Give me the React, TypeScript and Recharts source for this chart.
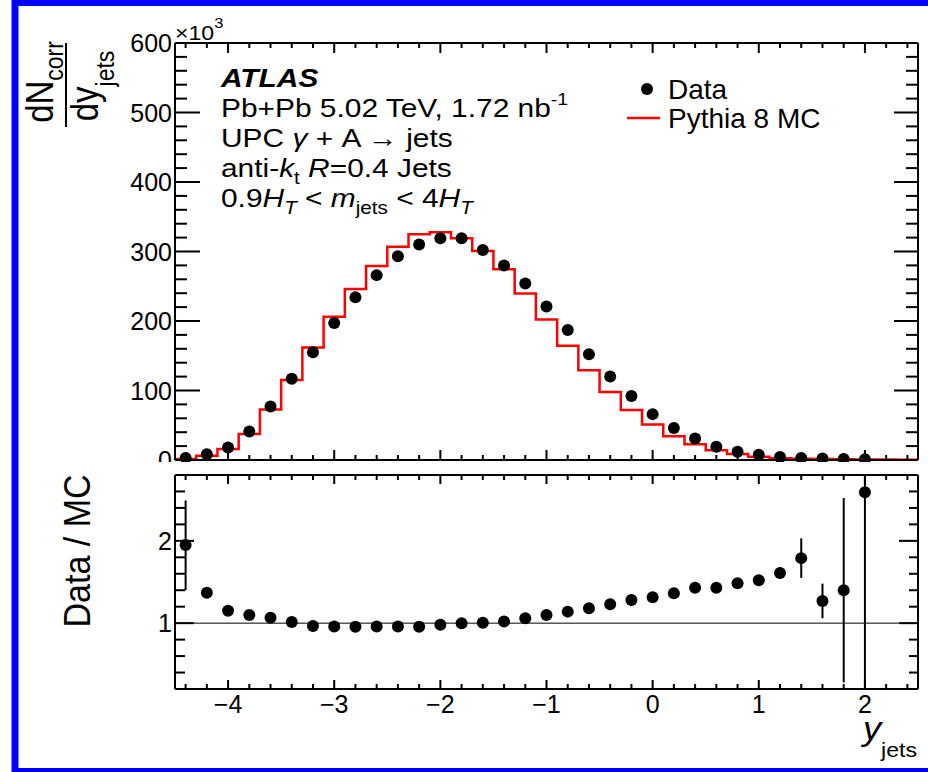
import { ComposedChart, ErrorBar, Line, ReferenceLine, Scatter, XAxis, YAxis } from "recharts";

const FONT = "'Liberation Sans', Arial, Helvetica, sans-serif";

// bin centres of the measured points (bin width 0.2)
const yCenters = [-4.4, -4.2, -4, -3.8, -3.6, -3.4, -3.2, -3, -2.8, -2.6, -2.4, -2.2, -2, -1.8, -1.6, -1.4, -1.2, -1, -0.8, -0.6, -0.4, -0.2, 0, 0.2, 0.4, 0.6, 0.8, 1, 1.2, 1.4, 1.6, 1.8, 2];

// dN/dy (x10^3)
const dataYield = [2.9, 8.2, 18, 41, 77, 117, 155, 197, 234, 266, 293, 310, 319, 319, 302, 280, 254, 221, 187, 152, 120, 92, 66, 46, 31, 19, 12, 7.6, 4.3, 2.9, 2.0, 1.5, 1.0];

// Pythia histogram: lower bin edges + last upper edge, one value per bin
const mcEdges = [-4.5, -4.3, -4.1, -3.9, -3.7, -3.5, -3.3, -3.1, -2.9, -2.7, -2.5, -2.3, -2.1, -1.9, -1.7, -1.5, -1.3, -1.1, -0.9, -0.7, -0.5, -0.3, -0.1, 0.1, 0.3, 0.5, 0.7, 0.9, 1.1, 1.3, 1.5, 1.7, 1.9, 2.1, 2.3, 2.5];
const mcValues = [1.5, 6, 16, 37.5, 72.6, 115, 162, 206, 246, 279, 307, 325, 327.6, 319, 300.6, 274.6, 239.5, 202, 164.5, 129, 98, 72, 51, 34, 22.5, 14, 8.6, 4.8, 2.4, 1.9, 1.3, 1.0, 0.8, 0.6, 0.5];

// Data / MC
const ratioValues = [1.95, 1.37, 1.15, 1.1, 1.065, 1.015, 0.965, 0.96, 0.955, 0.958, 0.958, 0.955, 0.98, 1.0, 1.004, 1.02, 1.06, 1.1, 1.14, 1.18, 1.23, 1.28, 1.316, 1.364, 1.43, 1.43, 1.486, 1.52, 1.61, 1.79, 1.27, 1.4, 2.59];
const ratioErrLo = [0.55, 0.04, 0.02, 0.02, 0.01, 0.01, 0.01, 0.01, 0.01, 0.01, 0.01, 0.01, 0.01, 0.01, 0.01, 0.01, 0.01, 0.01, 0.01, 0.01, 0.01, 0.01, 0.01, 0.02, 0.02, 0.02, 0.03, 0.04, 0.07, 0.24, 0.21, 1.12, 2.39];
const ratioErrHi = [0.54, 0.04, 0.02, 0.02, 0.01, 0.01, 0.01, 0.01, 0.01, 0.01, 0.01, 0.01, 0.01, 0.01, 0.01, 0.01, 0.01, 0.01, 0.01, 0.01, 0.01, 0.01, 0.01, 0.02, 0.02, 0.02, 0.03, 0.04, 0.07, 0.24, 0.21, 1.12, 0.2];

// axes
const xTicks = [...yCenters, 2.2, 2.4];
const xLabels = [-4, -3, -2, -1, 0, 1, 2];
const yieldTicks = [0, 20, 40, 60, 80, 100, 120, 140, 160, 180, 200, 220, 240, 260, 280, 300, 320, 340, 360, 380, 400, 420, 440, 460, 480, 500, 520, 540, 560, 580, 600];
const yieldLabels = [0, 100, 200, 300, 400, 500, 600];
const ratioTicks = [0.4, 0.6, 0.8, 1, 1.2, 1.4, 1.6, 1.8, 2, 2.2, 2.4, 2.6];
const ratioLabels = [1, 2];

const topPoints = yCenters.map((x, i) => ({ x, y: dataYield[i] }));
const mcLine = mcEdges.map((x, i) => ({ x, y: mcValues[Math.min(i, mcValues.length - 1)] }));
const ratioPoints = yCenters.map((x, i) => ({ x, y: ratioValues[i], err: [ratioErrLo[i], ratioErrHi[i]] }));

const fmt = (v: number) => (v < 0 ? `\u2212${Math.abs(v)}` : `${v}`);

type Side = "left" | "right" | "top" | "bottom";

// ROOT-style ticks pointing into the frame
function frameTick(side: Side, majors: number[], majorLen: number, minorLen: number, labels: boolean) {
    return function FrameTick(props: any) {
        const { x, y, payload } = props;
        const v = payload.value;
        const major = majors.some((m) => Math.abs(m - v) < 1e-6);
        const len = major ? majorLen : minorLen;
        let x2 = x;
        let y2 = y;
        if (side === "left") x2 = x + len;
        if (side === "right") x2 = x - len;
        if (side === "top") y2 = y + len;
        if (side === "bottom") y2 = y - len;
        return (
            <g>
                <line x1={x} y1={y} x2={x2} y2={y2} stroke="#000" strokeWidth={2} />
                {labels && major && side === "left" && (
                    <text x={x - 3} y={y} dy="0.36em" textAnchor="end" fontSize={25} fontFamily={FONT} fill="#000">
                        {fmt(v)}
                    </text>
                )}
                {labels && major && side === "bottom" && (
                    <text x={x} y={y + 24} textAnchor="middle" fontSize={25} fontFamily={FONT} fill="#000">
                        {fmt(v)}
                    </text>
                )}
            </g>
        );
    };
}

const Dot = (p: any) => <circle cx={p.cx} cy={p.cy} r={6} fill="#000" />;
const frame = { stroke: "#000", strokeWidth: 2 };

export default function App() {
    return (
        <div style={{ position: "absolute", left: 0, top: 0, width: 928, height: 772, background: "#fff", overflow: "hidden", fontFamily: FONT }}>
            <div style={{ position: "absolute", left: 0, top: 0 }}>
                <ComposedChart width={928} height={462} margin={{ top: 42, right: 9, bottom: 1, left: 174 }}>
                    <XAxis dataKey="x" type="number" domain={[-4.5, 2.5]} ticks={xTicks} interval={0} height={1} tickSize={0} tickMargin={0} tickLine={false} axisLine={frame} tick={frameTick("bottom", xLabels, 10, 5, false)} />
                    <XAxis xAxisId="top" orientation="top" dataKey="x" type="number" domain={[-4.5, 2.5]} allowDataOverflow ticks={xTicks} interval={0} height={1} tickSize={0} tickMargin={0} tickLine={false} axisLine={frame} tick={frameTick("top", xLabels, 10, 5, false)} />
                    <YAxis dataKey="y" type="number" domain={[0, 600]} ticks={yieldTicks} interval={0} width={1} tickSize={0} tickMargin={0} tickLine={false} axisLine={frame} tick={frameTick("left", yieldLabels, 25, 12, true)} />
                    <YAxis yAxisId="right" orientation="right" dataKey="y" type="number" domain={[0, 600]} allowDataOverflow ticks={yieldTicks} interval={0} width={1} tickSize={0} tickMargin={0} tickLine={false} axisLine={frame} tick={frameTick("right", yieldLabels, 24, 12, false)} />
                    <Line data={mcLine} dataKey="y" type="stepAfter" stroke="#ff0000" strokeWidth={2.5} dot={false} activeDot={false} isAnimationActive={false} />
                    <Scatter data={topPoints} shape={Dot} isAnimationActive={false} />
                </ComposedChart>
            </div>
            <div style={{ position: "absolute", left: 0, top: 462, background: "#fff" }}>
                <ComposedChart width={928} height={310} margin={{ top: 12, right: 9, bottom: 82, left: 174 }}>
                    <XAxis dataKey="x" type="number" domain={[-4.5, 2.5]} ticks={xTicks} interval={0} height={1} tickSize={0} tickMargin={0} tickLine={false} axisLine={frame} tick={frameTick("bottom", xLabels, 9, 5, true)} />
                    <XAxis xAxisId="top" orientation="top" dataKey="x" type="number" domain={[-4.5, 2.5]} allowDataOverflow ticks={xTicks} interval={0} height={1} tickSize={0} tickMargin={0} tickLine={false} axisLine={frame} tick={frameTick("top", xLabels, 9, 5, false)} />
                    <YAxis dataKey="y" type="number" domain={[0.2, 2.8]} ticks={ratioTicks} interval={0} width={1} tickSize={0} tickMargin={0} tickLine={false} axisLine={frame} tick={frameTick("left", ratioLabels, 19, 10, true)} />
                    <YAxis yAxisId="right" orientation="right" dataKey="y" type="number" domain={[0.2, 2.8]} allowDataOverflow ticks={ratioTicks} interval={0} width={1} tickSize={0} tickMargin={0} tickLine={false} axisLine={frame} tick={frameTick("right", ratioLabels, 19, 9, false)} />
                    <ReferenceLine y={1} stroke="#000" strokeWidth={1} />
                    <Scatter data={ratioPoints} shape={Dot} isAnimationActive={false}>
                        <ErrorBar dataKey="err" direction="y" width={0} stroke="#000" strokeWidth={2} isAnimationActive={false} />
                    </Scatter>
                </ComposedChart>
            </div>
            <svg style={{ position: "absolute", left: 0, top: 0 }} width={928} height={772} fontFamily={FONT} fill="#000">
                {/* x10^3 */}
                <text transform="translate(175,40) scale(1.1,1)" fontSize={21}>
                    ×10<tspan fontSize={15} dy={-12}>3</tspan>
                </text>
                {/* y title: dN_corr / dy_jets */}
                <text transform="translate(53,82) scale(1.15,1) rotate(-90)" fontSize={33} textAnchor="middle">
                    dN<tspan fontSize={23} dy={8.7}>corr</tspan>
                </text>
                <line x1={66} y1={43} x2={66} y2={127} stroke="#000" strokeWidth={2} />
                <text transform="translate(98,86) scale(1.15,1) rotate(-90)" fontSize={33} textAnchor="middle">
                    dy<tspan fontSize={23} dy={14}>jets</tspan>
                </text>
                {/* annotation */}
                <g transform="translate(221,0)">
                    <text transform="translate(0,87) scale(1.15,1)" fontSize={26} fontWeight="bold" fontStyle="italic">ATLAS</text>
                    <text transform="translate(0,117) scale(1.15,1)" fontSize={26}>
                        {"Pb+Pb 5.02 TeV, 1.72 nb"}<tspan fontSize={17} dy={-12}>-1</tspan>
                    </text>
                    <text transform="translate(0,147) scale(1.15,1)" fontSize={26}>
                        {"UPC "}<tspan fontStyle="italic">γ</tspan>{" + A → jets"}
                    </text>
                    <text transform="translate(0,177) scale(1.15,1)" fontSize={26}>
                        {"anti-"}<tspan fontStyle="italic">k</tspan><tspan fontSize={18} dy={7}>t</tspan><tspan dy={-7}>{" "}</tspan><tspan fontStyle="italic">R</tspan>{"=0.4 Jets"}
                    </text>
                    <text transform="translate(0,207) scale(1.15,1)" fontSize={26}>
                        {"0.9"}<tspan fontStyle="italic">H</tspan><tspan fontStyle="italic" fontSize={18} dy={7}>T</tspan><tspan dy={-7}>{" < "}</tspan><tspan fontStyle="italic">m</tspan><tspan fontSize={18} dy={7}>jets</tspan><tspan dy={-7}>{" < 4"}</tspan><tspan fontStyle="italic">H</tspan><tspan fontStyle="italic" fontSize={18} dy={7}>T</tspan>
                    </text>
                </g>
                {/* legend */}
                <circle cx={647} cy={89} r={6} fill="#000" />
                <text x={668} y={99} fontSize={28}>Data</text>
                <line x1={627} y1={118} x2={660} y2={118} stroke="#ff0000" strokeWidth={2.5} />
                <text x={668} y={128} fontSize={28}>Pythia 8 MC</text>
                {/* ratio title */}
                <text transform="translate(90,551) scale(1.1,1) rotate(-90)" fontSize={34} textAnchor="middle">Data / MC</text>
                {/* x title */}
                <text transform="translate(917,740) scale(1.1,1)" textAnchor="end">
                    <tspan fontSize={33} fontStyle="italic">y</tspan><tspan fontSize={21} dy={17}>jets</tspan>
                </text>
                {/* page border */}
                <rect x={15} y={2.5} width={1000} height={769} fill="none" stroke="#0000ff" strokeWidth={7} />
            </svg>
        </div>
    );
}
